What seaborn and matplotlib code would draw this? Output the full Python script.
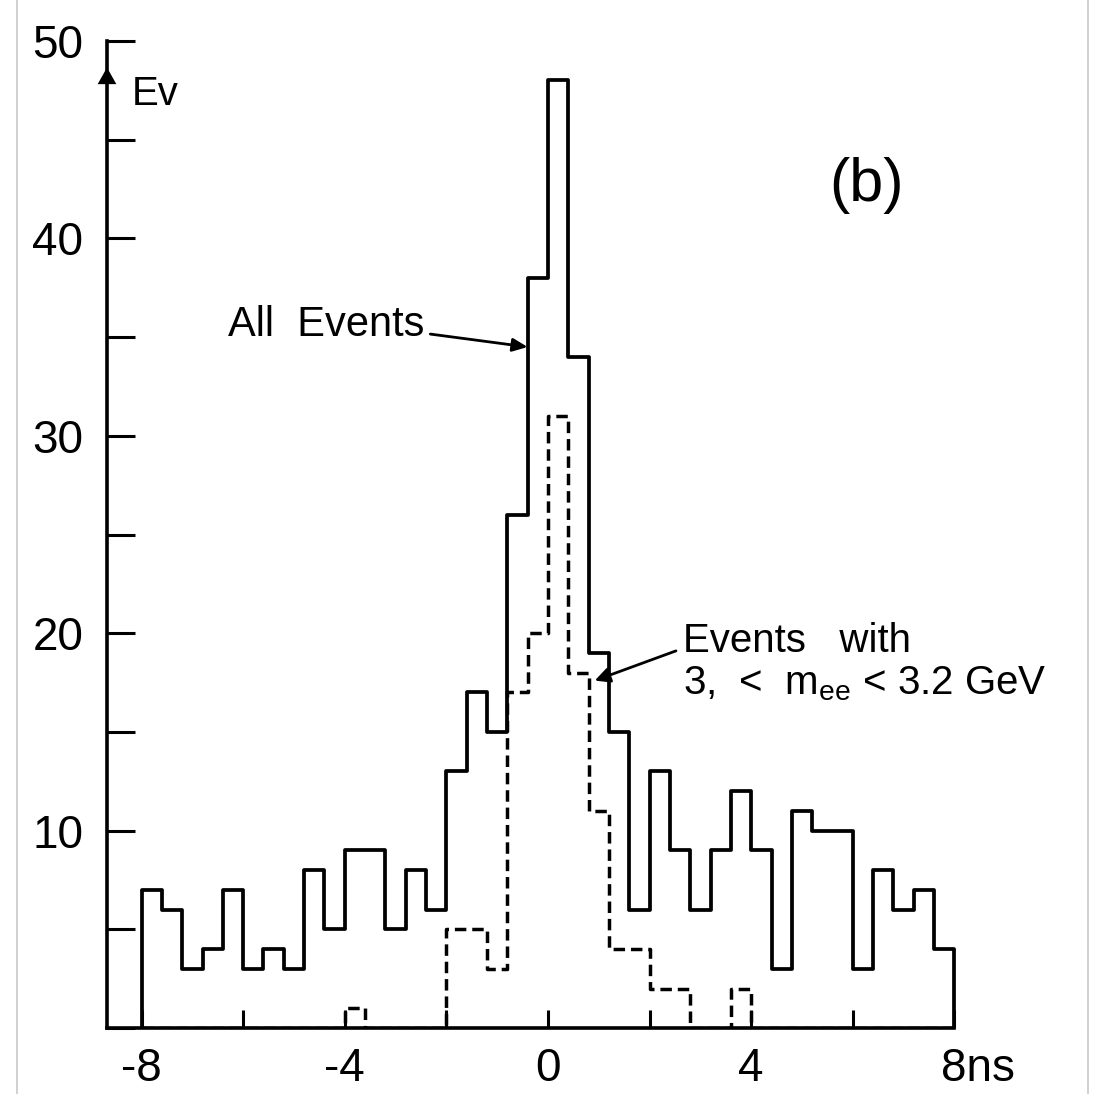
import matplotlib
matplotlib.use("Agg")
import matplotlib.pyplot as plt
from matplotlib.lines import Line2D
import seaborn as sns
import numpy as np
import pandas as pd

# time difference bins, -8 .. 8 ns in 0.4 ns steps
bin_lo = -8.0
bin_hi = 8.0
n_bins = 40

# counts per bin
all_events = [7, 6, 3, 4, 7, 3, 4, 3, 8, 5, 9, 9, 5, 8, 6,
              13, 17, 15, 26, 38, 48, 34, 19, 15,
              6, 13, 9, 6, 9, 12, 9, 3, 11, 10, 10, 3, 8, 6, 7, 4]
mass_window = [0, 0, 0, 0, 0, 0, 0, 0, 0, 0, 1, 0, 0, 0, 0,
               5, 5, 3, 17, 20, 31, 18, 11, 4,
               4, 2, 2, 0, 0, 2, 0, 0, 0, 0, 0, 0, 0, 0, 0, 0]

x_ticks = [-8, -6, -4, -2, 0, 2, 4, 6, 8]
x_labels = ["-8", "", "-4", "", "0", "", "4", "", ""]
y_ticks = [0, 5, 10, 15, 20, 25, 30, 35, 40, 45, 50]
y_labels = ["", "", "10", "", "20", "", "30", "", "40", "", "50"]

sns.set_style("ticks")
plt.rcParams["font.family"] = ["Liberation Sans", "DejaVu Sans"]
plt.rcParams["mathtext.fontset"] = "custom"
plt.rcParams["mathtext.rm"] = "Liberation Sans"
for key in ["text.color", "xtick.color", "ytick.color", "axes.edgecolor", "axes.labelcolor"]:
    plt.rcParams[key] = "black"

edges = np.linspace(bin_lo, bin_hi, n_bins + 1)
df = pd.DataFrame({"t": (edges[:-1] + edges[1:]) / 2,
                   "all": all_events, "mass": mass_window})

fig = plt.figure(figsize=(10.93, 10.94), dpi=100)
ax = fig.add_axes([0.0979, 0.0603, 0.8683, 0.9383])

sns.histplot(data=df, x="t", weights="mass", bins=edges.tolist(), element="step", fill=False,
             color="black", linewidth=2.5, linestyle=(0, (3.3, 1.7)), ax=ax)
sns.histplot(data=df, x="t", weights="all", bins=edges.tolist(), element="step", fill=False,
             color="black", linewidth=2.7, ax=ax)
# close the outer histogram down to the axis at both ends
ax.vlines([edges[0], edges[-1]], 0, [all_events[0], all_events[-1]],
          color="black", linewidth=2.7)

ax.set_xlim(-8.68, 10.0)
ax.set_ylim(0, 52)
ax.set_xlabel("")
ax.set_ylabel("")

for side in ["top", "right"]:
    ax.spines[side].set_visible(False)
ax.spines["left"].set_linewidth(2.6)
ax.spines["bottom"].set_linewidth(2.6)
ax.spines["left"].set_bounds(0, 50)
ax.spines["bottom"].set_bounds(-8.68, 8)

ax.set_xticks(x_ticks)
ax.set_xticklabels(x_labels)
ax.set_yticks(y_ticks)
ax.set_yticklabels(y_labels)
ax.tick_params(axis="x", direction="in", length=13, width=2.2, labelsize=33, pad=14)
ax.tick_params(axis="y", direction="in", length=20, width=2.2, labelsize=33, pad=17)

# "8ns" label sits with the 8 on the last tick
ax.annotate("8ns", xy=(8, 0), xytext=(-10, -14), textcoords="offset points",
            ha="left", va="top", fontsize=33)

# arrow head on the y axis and its unit
ax.annotate("", xy=(0, 48.8), xycoords=("axes fraction", "data"),
            xytext=(0, 46.8), textcoords=("axes fraction", "data"),
            arrowprops=dict(arrowstyle="-|>,head_length=0.5,head_width=0.28",
                            color="black", lw=0, mutation_scale=24))
ax.text(-8.19, 47.3, "Ev", ha="left", va="center", fontsize=29)

ax.text(6.26, 42.7, "(b)", ha="center", va="center", fontsize=44)

ax.annotate("All  Events", xy=(-0.4, 34.5), xytext=(-6.3, 35.6),
            ha="left", va="center", fontsize=30,
            arrowprops=dict(arrowstyle="-|>,head_length=0.5,head_width=0.22",
                            color="black", lw=2.0, mutation_scale=18,
                            relpos=(1, 0.3), shrinkA=2, shrinkB=0))

ax.annotate("Events   with\n3,  <  m$_{\\mathregular{ee}}$ < 3.2 GeV", xy=(0.92, 17.6),
            xytext=(2.66, 18.5), ha="left", va="center", fontsize=29,
            linespacing=1.15,
            arrowprops=dict(arrowstyle="-|>,head_length=0.5,head_width=0.25",
                            color="black", lw=2.0, mutation_scale=18,
                            relpos=(0, 0.68), shrinkA=3, shrinkB=0))

# scan border
fig.add_artist(Line2D([17 / 1093, 17 / 1093], [0, 1], color="#c8c8c8", lw=1.2))
fig.add_artist(Line2D([1088 / 1093, 1088 / 1093], [0, 1], color="#c8c8c8", lw=1.2))

fig.savefig("out.png", dpi=100, facecolor="white")
